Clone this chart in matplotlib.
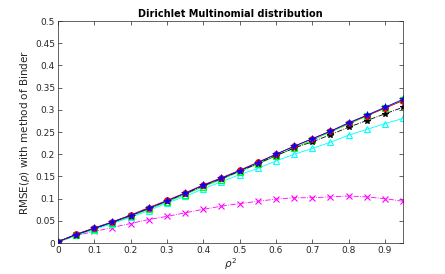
import matplotlib
matplotlib.use("Agg")
import matplotlib.pyplot as plt
import numpy as np

x = [0, 0.05, 0.1, 0.15, 0.2, 0.25, 0.3, 0.35, 0.4, 0.45, 0.5, 0.55, 0.6, 0.65, 0.7, 0.75, 0.8, 0.85, 0.9, 0.95]
red = [0.003, 0.020, 0.034, 0.048, 0.063, 0.080, 0.096, 0.113, 0.131, 0.147, 0.164, 0.182, 0.200, 0.218, 0.235, 0.252, 0.270, 0.287, 0.304, 0.321]
green = [0.002, 0.018, 0.032, 0.046, 0.060, 0.076, 0.093, 0.109, 0.127, 0.143, 0.161, 0.178, 0.196, 0.214, 0.232, 0.250, 0.268, 0.286, 0.304, 0.322]
blue = [0.003, 0.019, 0.033, 0.047, 0.062, 0.078, 0.095, 0.112, 0.130, 0.146, 0.163, 0.181, 0.200, 0.218, 0.235, 0.252, 0.271, 0.288, 0.306, 0.324]
black = [0.003, 0.019, 0.033, 0.047, 0.062, 0.078, 0.095, 0.111, 0.129, 0.145, 0.162, 0.179, 0.197, 0.214, 0.228, 0.244, 0.261, 0.276, 0.291, 0.306]
cyan = [0.002, 0.017, 0.030, 0.044, 0.058, 0.073, 0.090, 0.105, 0.122, 0.138, 0.154, 0.168, 0.185, 0.200, 0.213, 0.227, 0.243, 0.256, 0.269, 0.281]
magenta = [0.002, 0.017, 0.026, 0.035, 0.044, 0.053, 0.060, 0.068, 0.076, 0.083, 0.089, 0.094, 0.099, 0.102, 0.102, 0.104, 0.106, 0.104, 0.100, 0.094]

fig = plt.figure(figsize=(4.45, 2.74), dpi=100)
ax = fig.add_axes([0.130, 0.113, 0.776, 0.810])

lw = 0.6
ms = 4
ax.plot(x, magenta, color='magenta', linestyle='-.', marker='x', lw=lw, ms=ms, mew=0.8)
ax.plot(x, cyan, color='cyan', linestyle='-', marker='^', lw=lw, ms=ms, mfc='none', mew=0.8)
ax.plot(x, green, color='lime', linestyle='-', marker='s', lw=lw, ms=ms, mfc='none', mew=0.8)
ax.plot(x, black, color='black', linestyle='-.', marker='*', lw=lw, ms=ms, mew=0.8)
ax.plot(x, red, color='red', linestyle='-', marker='o', lw=lw, ms=ms, mfc='red', mec='red', mew=0.8)
ax.plot(x, blue, color='blue', linestyle='-', marker='*', lw=lw, ms=5.5, mfc='blue', mec='blue', mew=0.5)

ax.set_xlim(0, 0.95)
ax.set_ylim(0, 0.5)
ax.set_xticks([0, 0.1, 0.2, 0.3, 0.4, 0.5, 0.6, 0.7, 0.8, 0.9])
ax.set_xticklabels(['0', '0.1', '0.2', '0.3', '0.4', '0.5', '0.6', '0.7', '0.8', '0.9'])
ax.set_yticks(np.arange(0, 0.51, 0.05))
ax.set_yticklabels(['0', '0.05', '0.1', '0.15', '0.2', '0.25', '0.3', '0.35', '0.4', '0.45', '0.5'])
ax.tick_params(direction='in', length=3, width=0.5, labelsize=6.5, colors='#262626', top=True, right=True, pad=2)
for s in ax.spines.values():
    s.set_linewidth(0.5)
    s.set_color('#262626')
ax.set_title('Dirichlet Multinomial distribution', fontsize=7, fontweight='bold', pad=3)
ax.set_ylabel(r'RMSE($\rho$) with method of Binder', fontsize=7.5, color='#262626', labelpad=2)
ax.set_xlabel(r'$\rho^2$', fontsize=7.5, color='#262626', labelpad=1)

fig.savefig('out.png', dpi=100)
